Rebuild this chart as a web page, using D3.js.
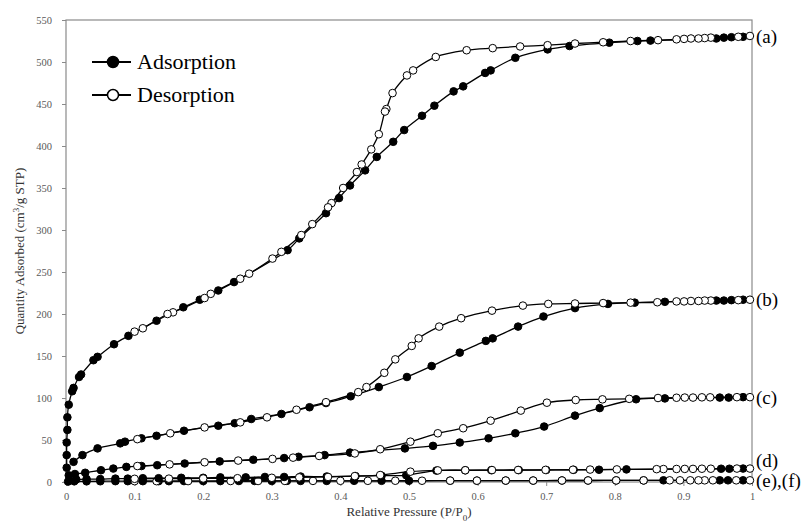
<!DOCTYPE html>
<html>
<head>
<meta charset="utf-8">
<script src="https://cdn.jsdelivr.net/npm/d3@7"></script>
<style>
  body { margin: 0; background: #fff; }
  svg { display: block; font-family: "Liberation Serif", "Times New Roman", serif; }
</style>
</head>
<body>
<div id="chart"></div>
<script>
// --------------------------------------
//  Data
// --------------------------------------

const xTicks = [0, 0.1, 0.2, 0.3, 0.4, 0.5, 0.6, 0.7, 0.8, 0.9, 1];
const yTicks = [0, 50, 100, 150, 200, 250, 300, 350, 400, 450, 500, 550];
const sampleLabels = ["(a)", "(b)", "(c)", "(d)", "(e),(f)"];

const aAds = [[0.001,17],[0.001,32],[0.001,47],[0.002,62],[0.002,77],[0.004,92],[0.009,108],[0.011,112],[0.019,125],[0.022,128],[0.040,145],[0.046,149],[0.070,164],[0.091,174],[0.132,192],[0.171,208],[0.195,217],[0.222,228],[0.245,238],[0.323,276],[0.340,290],[0.379,320],[0.398,338],[0.414,353],[0.436,371],[0.453,387],[0.477,405],[0.493,419],[0.519,436],[0.537,448],[0.565,465],[0.579,471],[0.611,487],[0.619,490],[0.655,505],[0.702,515],[0.734,519],[0.792,523],[0.833,525],[0.852,525.5],[0.948,528],[0.959,529],[0.970,529.5],[0.987,530]];
const aDes = [[0.997,531],[0.980,530],[0.940,529],[0.931,528.5],[0.922,528],[0.911,528],[0.901,527.5],[0.890,527],[0.863,526],[0.823,525],[0.783,523.5],[0.742,522],[0.702,520],[0.662,518.5],[0.622,516.5],[0.584,514],[0.539,506],[0.506,490],[0.497,484],[0.476,463],[0.467,444],[0.465,441],[0.456,414],[0.445,396],[0.431,378],[0.424,369],[0.404,350],[0.387,332],[0.382,327],[0.359,307],[0.343,294],[0.314,274],[0.301,266],[0.267,248],[0.254,242],[0.211,224],[0.202,219],[0.156,202],[0.148,200],[0.112,183],[0.100,179]];

const bAds = [[0.011,24],[0.024,32],[0.046,40],[0.079,46],[0.086,48],[0.110,52],[0.132,55],[0.172,61],[0.222,67],[0.246,70],[0.270,75],[0.314,81],[0.355,89],[0.379,94],[0.415,102],[0.456,113],[0.497,125],[0.533,138],[0.574,154],[0.612,168],[0.622,171],[0.659,185],[0.696,197],[0.742,207],[0.790,212],[0.829,213.5],[0.873,214.5],[0.948,216],[0.959,216],[0.970,216.5],[0.987,217]];
const bDes = [[0.997,217],[0.980,216.5],[0.940,216],[0.931,216],[0.922,215.5],[0.911,215.5],[0.901,215],[0.890,215],[0.862,214],[0.823,213.5],[0.783,213],[0.742,212.5],[0.703,212],[0.666,210],[0.621,204],[0.576,195],[0.544,185],[0.514,171],[0.504,162],[0.480,146],[0.464,130],[0.438,113],[0.426,107],[0.379,95],[0.336,86],[0.293,77],[0.254,71],[0.202,65],[0.152,58],[0.104,51]];

const cAds = [[0.004,8],[0.013,9.5],[0.028,11],[0.051,14],[0.069,16],[0.088,18],[0.110,19],[0.133,20],[0.173,22],[0.224,24.5],[0.273,26.5],[0.318,28.5],[0.339,30],[0.377,32],[0.414,35],[0.494,40],[0.535,43],[0.574,47],[0.616,52],[0.655,58],[0.697,66],[0.742,79],[0.778,88],[0.831,98.5],[0.873,99.5],[0.953,100.5],[0.966,100.5],[0.987,101]];
const cDes = [[0.997,101],[0.978,101],[0.939,100.8],[0.927,100.8],[0.914,100.5],[0.902,100.5],[0.890,100.3],[0.863,100],[0.821,99],[0.782,98.4],[0.743,97.6],[0.701,94.4],[0.663,85],[0.619,73],[0.579,64],[0.542,58],[0.502,48],[0.458,39],[0.421,34],[0.369,31],[0.331,29],[0.301,27.5],[0.251,25.5],[0.202,23.5],[0.151,21],[0.104,19]];

const dAds = [[0.005,2],[0.015,3],[0.030,3.5],[0.050,3.5],[0.072,4],[0.090,4],[0.112,4.5],[0.135,4.5],[0.168,5],[0.200,5],[0.225,5.5],[0.262,5.5],[0.290,6],[0.318,6],[0.342,6.5],[0.380,6.5],[0.422,7],[0.460,7.5],[0.496,8],[0.540,13.6],[0.582,13.9],[0.620,14.1],[0.660,14.2],[0.700,14.3],[0.740,14.5],[0.777,14.6],[0.817,15],[0.955,15.8],[0.967,15.8],[0.987,16]];
const dDes = [[0.997,16],[0.978,16],[0.940,15.8],[0.927,15.8],[0.914,15.6],[0.902,15.6],[0.890,15.5],[0.871,15.4],[0.861,15.3],[0.803,15],[0.764,14.8],[0.739,14.6],[0.699,14.4],[0.659,14.3],[0.621,14.2],[0.582,14],[0.542,13.8],[0.502,12.3],[0.458,8.3],[0.421,7],[0.382,6],[0.340,5.5],[0.300,5],[0.250,4.5],[0.200,4.2],[0.150,4],[0.100,3.8]];

const efAds = [[0.003,0.5],[0.012,0.8],[0.030,0.8],[0.050,0.9],[0.072,1],[0.090,1],[0.112,1],[0.135,1],[0.150,1],[0.172,1.1],[0.200,1.1],[0.225,1.1],[0.252,1.2],[0.275,1.2],[0.300,1.2],[0.322,1.3],[0.342,1.3],[0.380,1.3],[0.420,1.4],[0.460,1.4],[0.500,1.5],[0.560,1.6],[0.599,1.6],[0.641,1.7],[0.681,1.7],[0.723,1.8],[0.761,1.8],[0.802,1.9],[0.842,1.9],[0.871,2],[0.953,2],[0.965,2],[0.987,2]];
const efDes = [[0.997,2],[0.977,2],[0.943,2],[0.931,2],[0.922,2],[0.910,2],[0.895,2],[0.880,2],[0.842,1.9],[0.802,1.9],[0.761,1.8],[0.723,1.8],[0.681,1.7],[0.641,1.7],[0.599,1.6],[0.560,1.6],[0.519,1.5],[0.480,1.5],[0.440,1.4],[0.400,1.4],[0.360,1.3],[0.319,1.3],[0.280,1.2],[0.240,1.2],[0.178,1.1],[0.132,1],[0.100,1]];

const samples = [
  {label: "(a)", ads: aAds, des: aDes},
  {label: "(b)", ads: bAds, des: bDes},
  {label: "(c)", ads: cAds, des: cDes},
  {label: "(d)", ads: dAds, des: dDes},
  {label: "(e),(f)", ads: efAds, des: efDes}
];

// --------------------------------------
//  Margin and canvas
// --------------------------------------

const margin = {top: 20, right: 57, bottom: 41, left: 66};
const width = 809;
const height = 523;
const innerwidth = width - margin.left - margin.right;
const innerheight = height - margin.top - margin.bottom;

const svg = d3.select("#chart")
  .append("svg")
    .attr("width", width)
    .attr("height", height);

const innerChart = svg
  .append("g")
    .attr("transform", `translate(${margin.left}, ${margin.top})`);

// --------------------------------------
//  Scales
// --------------------------------------

const x = d3.scaleLinear().domain([0, 1]).range([0, innerwidth]);
const y = d3.scaleLinear().domain([0, 550]).range([innerheight, 0]);

// --------------------------------------
//  Axes and frame
// --------------------------------------

const axisColor = "#8a8a8a";
const tickText = "#595959";

innerChart.append("g")
    .attr("class", "x-axis")
    .attr("transform", `translate(0, ${innerheight})`)
    .call(d3.axisBottom(x)
        .tickValues(xTicks)
        .tickSize(4)
        .tickPadding(7)
        .tickFormat(d => d === 0 ? "0" : d === 1 ? "1" : d3.format(".1f")(d)));

innerChart.append("g")
    .attr("class", "y-axis")
    .call(d3.axisLeft(y)
        .tickValues(yTicks)
        .tickSize(4)
        .tickPadding(10)
        .tickFormat(d3.format("d")));

innerChart.selectAll(".x-axis path, .y-axis path").attr("d", null).remove();
innerChart.selectAll(".tick line").attr("stroke", axisColor);
innerChart.selectAll(".tick text")
    .attr("fill", tickText)
    .style("font-size", "10.5px")
    .style("font-family", "'Liberation Serif', serif");

// frame: left, bottom, top, right
innerChart.append("rect")
    .attr("x", 0).attr("y", 0)
    .attr("width", innerwidth).attr("height", innerheight)
    .attr("fill", "none")
    .attr("stroke", axisColor)
    .attr("stroke-width", 1.2);

// axis titles
svg.append("text")
    .attr("x", margin.left + innerwidth / 2)
    .attr("y", 516)
    .attr("text-anchor", "middle")
    .attr("fill", "#333")
    .style("font-size", "13px")
    .html("Relative Pressure (P/P<tspan baseline-shift='sub' font-size='9px'>0</tspan>)");

svg.append("text")
    .attr("transform", `translate(24, ${margin.top + innerheight / 2}) rotate(-90)`)
    .attr("text-anchor", "middle")
    .attr("fill", "#333")
    .style("font-size", "13px")
    .html("Quantity Adsorbed (cm<tspan baseline-shift='super' font-size='9px'>3</tspan>/g STP)");

// --------------------------------------
//  Data drawing
// --------------------------------------

const line = d3.line()
    .x(d => x(d[0]))
    .y(d => y(d[1]))
    .curve(d3.curveCatmullRom.alpha(0.5));

const r = 3.8;

function drawSeries(points, filled) {
  innerChart.append("path")
      .datum(points)
      .attr("d", line)
      .attr("fill", "none")
      .attr("stroke", "#000")
      .attr("stroke-width", 1.3);

  innerChart.append("g")
    .selectAll("circle")
    .data(points)
    .join("circle")
      .attr("cx", d => x(d[0]))
      .attr("cy", d => y(d[1]))
      .attr("r", r)
      .attr("fill", filled ? "#000" : "#fff")
      .attr("stroke", "#000")
      .attr("stroke-width", 1);
}

samples.slice().reverse().forEach(s => {
  drawSeries(s.ads, true);
  drawSeries(s.des, false);
});

// sample labels at the right edge
const labelShift = {"(d)": -8};
svg.append("g")
  .selectAll("text")
  .data(samples)
  .join("text")
    .attr("x", margin.left + innerwidth + 4)
    .attr("y", d => margin.top + y(d.des[0][1]) + (labelShift[d.label] || 0))
    .attr("dy", "0.35em")
    .attr("fill", "#000")
    .style("font-size", "19px")
    .text(d => d.label);

// --------------------------------------
//  Legend
// --------------------------------------

const legend = [
  {label: "Adsorption", filled: true},
  {label: "Desorption", filled: false}
];

const lg = svg.append("g").attr("transform", "translate(92, 62)");
const item = lg.selectAll("g")
  .data(legend)
  .join("g")
    .attr("transform", (d, i) => `translate(0, ${i * 33})`);

item.append("line")
    .attr("x1", 0).attr("x2", 39)
    .attr("stroke", "#000")
    .attr("stroke-width", 2);

item.append("circle")
    .attr("cx", 21)
    .attr("r", 5.5)
    .attr("fill", d => d.filled ? "#000" : "#fff")
    .attr("stroke", "#000")
    .attr("stroke-width", 1.5);

item.append("text")
    .attr("x", 45)
    .attr("dy", "0.33em")
    .attr("fill", "#000")
    .style("font-size", "22px")
    .text(d => d.label);
</script>
</body>
</html>
